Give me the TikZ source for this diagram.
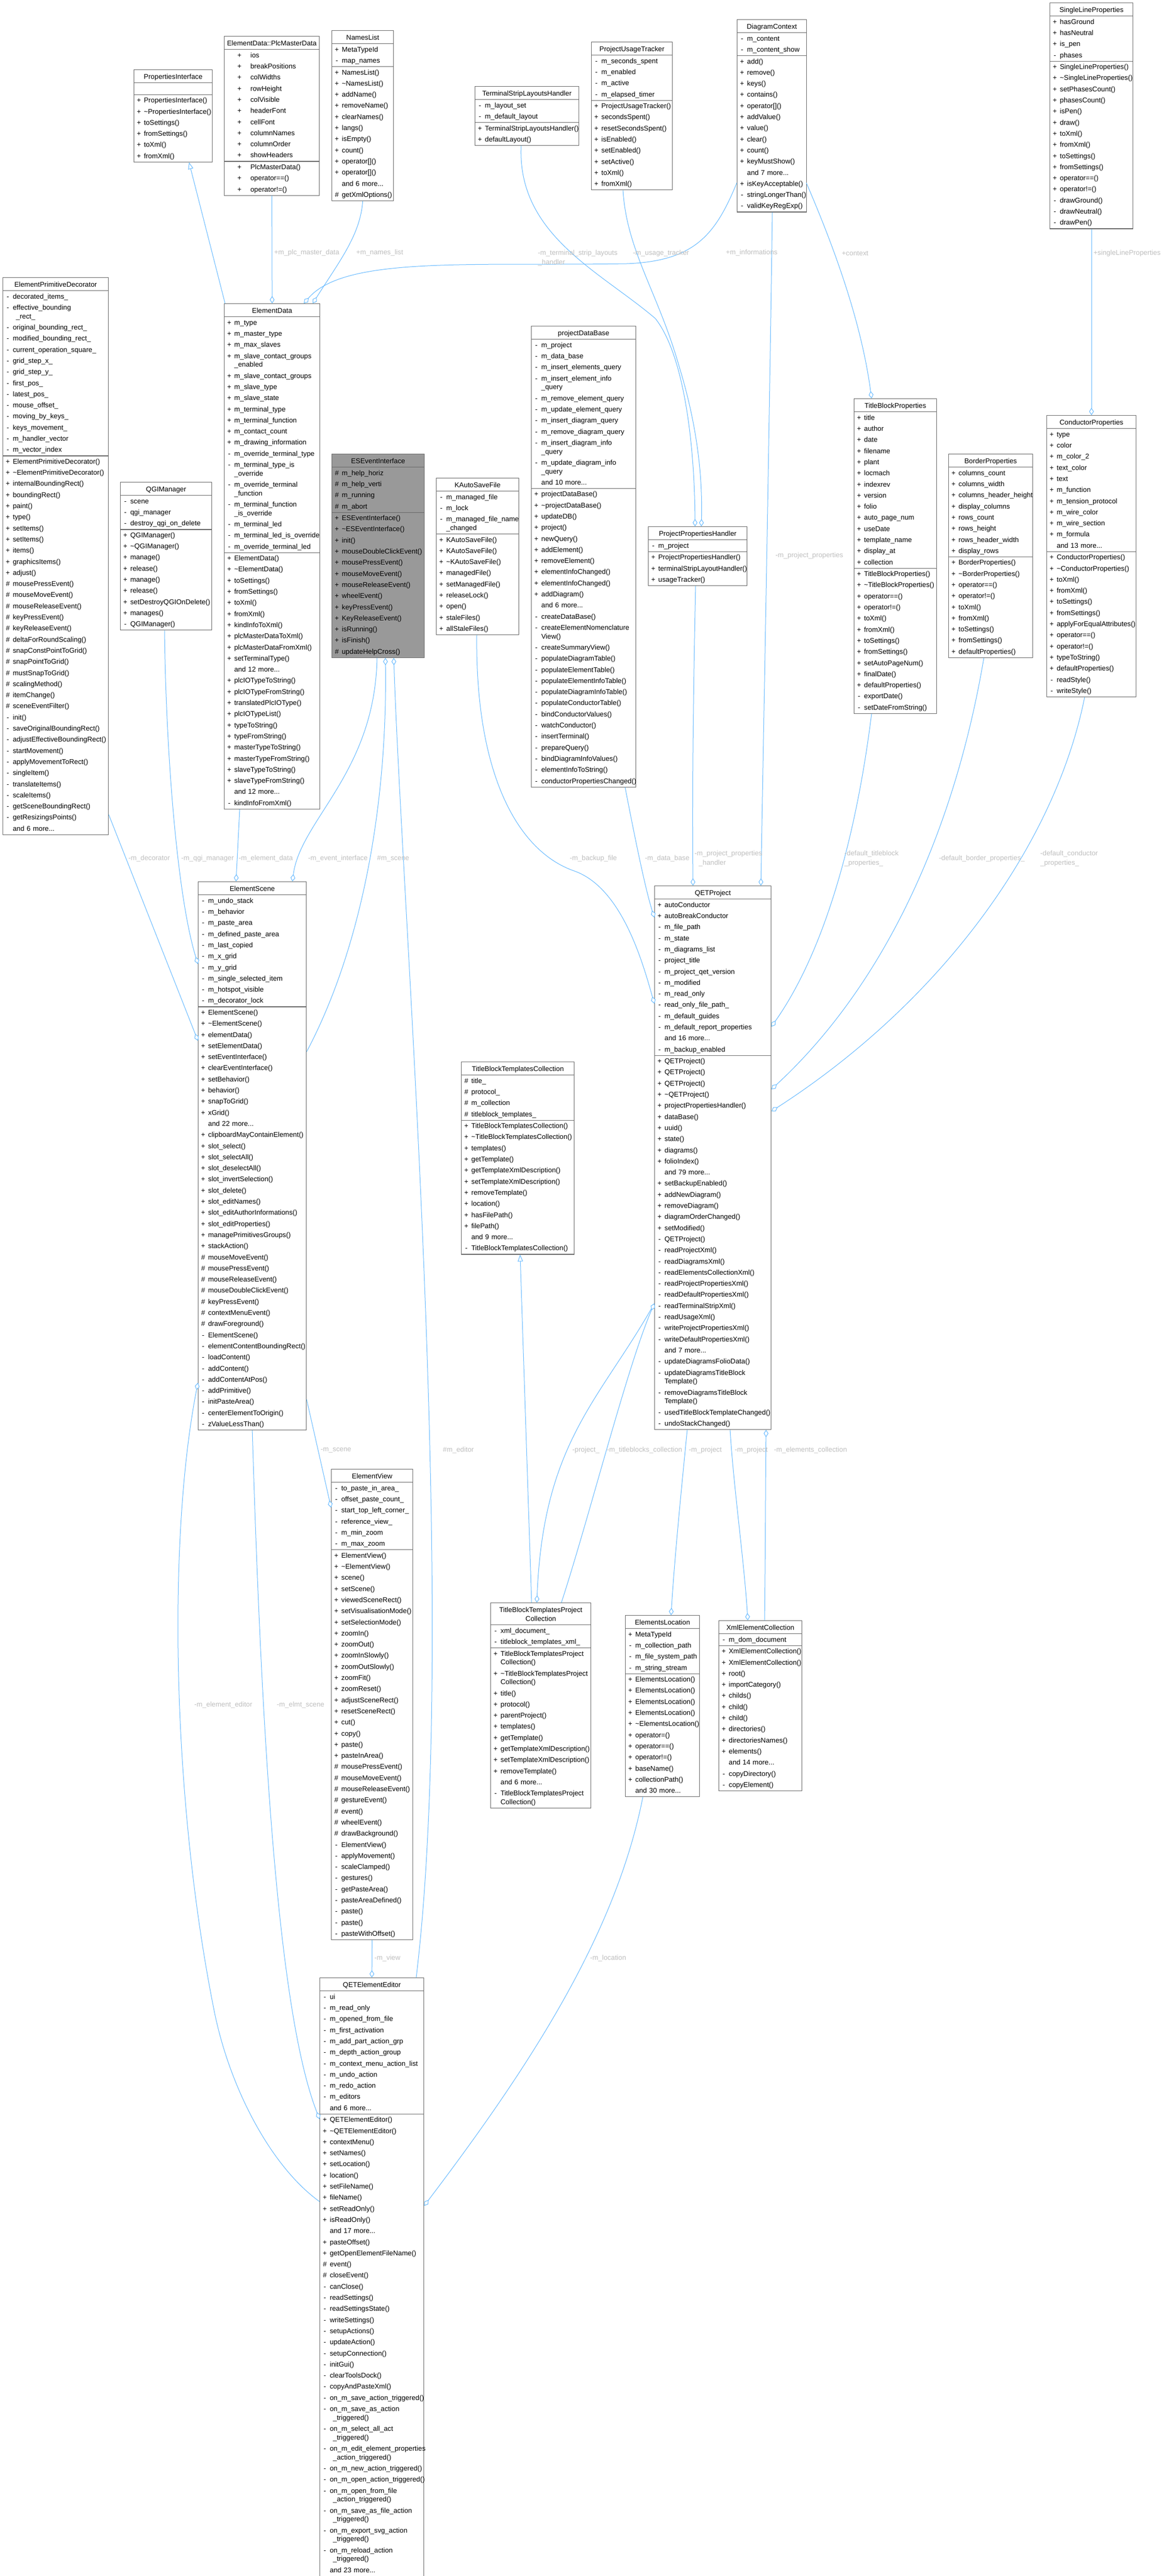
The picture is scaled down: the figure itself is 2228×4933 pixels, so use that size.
\documentclass[tikz,border=0pt]{standalone}
\usepackage{fontspec}
\setmainfont{Liberation Sans}
\usetikzlibrary{calc,shapes.multipart,arrows.meta}

\definecolor{boxgray}{HTML}{666666}
\definecolor{esgray}{HTML}{999999}
\definecolor{edgeblue}{HTML}{63B8FF}
\definecolor{lblgray}{HTML}{BEBEBE}

\newcommand{\clsfont}{\fontsize{13.3pt}{0pt}\selectfont\lineskip=0pt\lineskiplimit=0pt\parskip=0pt\parindent=0pt}
\newcommand{\lblfont}{\fontsize{13.3pt}{18.5pt}\selectfont}
\newcommand{\til}{\textasciitilde}
% class title, one or two lines
\newcommand{\hd}[1]{\par\hbox to\hsize{\hss\rule[-7pt]{0pt}{24pt}#1\hss}}
\newcommand{\hdc}[1]{\par\hbox to\hsize{\hss\rule[-7pt]{0pt}{17pt}#1\hss}}
% member row, continued row, plc row, empty row
\newcommand{\mbr}[2]{\par\hbox to\hsize{\hspace*{3pt}\makebox[13pt][c]{#1}\hspace*{3pt}\rule[-6.5pt]{0pt}{21.3pt}\smash{#2}\hss}}
\newcommand{\mco}[2][0pt]{\par\hbox to\hsize{\hspace*{19pt}\hspace*{#1}\rule[-6.5pt]{0pt}{16.7pt}\smash{#2}\hss}}
\newcommand{\mpl}[2]{\par\hbox to\hsize{\hspace*{25pt}\makebox[25pt][l]{#1}\rule[-6.5pt]{0pt}{21.3pt}\smash{#2}\hss}}
\newcommand{\nil}{\par\hbox to\hsize{\rule[-6.5pt]{0pt}{21.3pt}\hss}}

\begin{document}
\catcode`\_=12
\begin{tikzpicture}[x=1pt,y=-1pt,
  cls/.style={rectangle split,rectangle split parts=3,draw=boxgray,line width=1.2pt,fill=white,inner sep=0pt,anchor=north west,align=left,font=\clsfont},
  rel/.style={draw=edgeblue,line width=1pt},
  memb/.style={rel,-{Diamond[fill=white,length=14pt,width=9pt]}},
  inher/.style={rel,-{Triangle[fill=white,length=13pt,width=10pt]}},
  lbl/.style={text=lblgray,font=\lblfont,inner sep=0pt,anchor=west,align=left}]
\useasboundingbox (0,0) rectangle (2228,4933);

% top row
\node[cls,text width=150pt] (pif) at (256,133) {\hd{PropertiesInterface}
  \nodepart{two}\nil
  \nodepart{three}\mbr{+}{PropertiesInterface()}\mbr{+}{\til PropertiesInterface()}\mbr{+}{toSettings()}\mbr{+}{fromSettings()}\mbr{+}{toXml()}\mbr{+}{fromXml()}};
\node[cls,text width=182pt] (plc) at (429,69) {\hd{ElementData::PlcMasterData}
  \nodepart{two}\mpl{+}{ios}\mpl{+}{breakPositions}\mpl{+}{colWidths}\mpl{+}{rowHeight}\mpl{+}{colVisible}\mpl{+}{headerFont}\mpl{+}{cellFont}\mpl{+}{columnNames}\mpl{+}{columnOrder}\mpl{+}{showHeaders}
  \nodepart{three}\mpl{+}{PlcMasterData()}\mpl{+}{operator==()}\mpl{+}{operator!=()}};
\node[cls,text width=118pt] (names) at (635,58) {\hd{NamesList}
  \nodepart{two}\mbr{+}{MetaTypeId}\mbr{-}{map_names}
  \nodepart{three}\mbr{+}{NamesList()}\mbr{+}{\til NamesList()}\mbr{+}{addName()}\mbr{+}{removeName()}\mbr{+}{clearNames()}\mbr{+}{langs()}\mbr{+}{isEmpty()}\mbr{+}{count()}\mbr{+}{operator[]()}\mbr{+}{operator[]()}\mbr{}{and 6 more...}\mbr{\#}{getXmlOptions()}};
\node[cls,text width=199pt] (tslh) at (909,165) {\hd{TerminalStripLayoutsHandler}
  \nodepart{two}\mbr{-}{m_layout_set}\mbr{-}{m_default_layout}
  \nodepart{three}\mbr{+}{TerminalStripLayoutsHandler()}\mbr{+}{defaultLayout()}};
\node[cls,text width=155pt] (tracker) at (1132,80) {\hd{ProjectUsageTracker}
  \nodepart{two}\mbr{-}{m_seconds_spent}\mbr{-}{m_enabled}\mbr{-}{m_active}\mbr{-}{m_elapsed_timer}
  \nodepart{three}\mbr{+}{ProjectUsageTracker()}\mbr{+}{secondsSpent()}\mbr{+}{resetSecondsSpent()}\mbr{+}{isEnabled()}\mbr{+}{setEnabled()}\mbr{+}{setActive()}\mbr{+}{toXml()}\mbr{+}{fromXml()}};
\node[cls,text width=133pt] (context) at (1411,37) {\hd{DiagramContext}
  \nodepart{two}\mbr{-}{m_content}\mbr{-}{m_content_show}
  \nodepart{three}\mbr{+}{add()}\mbr{+}{remove()}\mbr{+}{keys()}\mbr{+}{contains()}\mbr{+}{operator[]()}\mbr{+}{addValue()}\mbr{+}{value()}\mbr{+}{clear()}\mbr{+}{count()}\mbr{+}{keyMustShow()}\mbr{}{and 7 more...}\mbr{+}{isKeyAcceptable()}\mbr{-}{stringLongerThan()}\mbr{-}{validKeyRegExp()}};
\node[cls,text width=159pt] (slp) at (2010,5) {\hd{SingleLineProperties}
  \nodepart{two}\mbr{+}{hasGround}\mbr{+}{hasNeutral}\mbr{+}{is_pen}\mbr{-}{phases}
  \nodepart{three}\mbr{+}{SingleLineProperties()}\mbr{+}{\til SingleLineProperties()}\mbr{+}{setPhasesCount()}\mbr{+}{phasesCount()}\mbr{+}{isPen()}\mbr{+}{draw()}\mbr{+}{toXml()}\mbr{+}{fromXml()}\mbr{+}{toSettings()}\mbr{+}{fromSettings()}\mbr{+}{operator==()}\mbr{+}{operator!=()}\mbr{-}{drawGround()}\mbr{-}{drawNeutral()}\mbr{-}{drawPen()}};

% second row
\node[cls,text width=202pt] (decor) at (5,531) {\hd{ElementPrimitiveDecorator}
  \nodepart{two}\mbr{-}{decorated_items_}\mbr{-}{effective_bounding}\mco[6pt]{_rect_}\mbr{-}{original_bounding_rect_}\mbr{-}{modified_bounding_rect_}\mbr{-}{current_operation_square_}\mbr{-}{grid_step_x_}\mbr{-}{grid_step_y_}\mbr{-}{first_pos_}\mbr{-}{latest_pos_}\mbr{-}{mouse_offset_}\mbr{-}{moving_by_keys_}\mbr{-}{keys_movement_}\mbr{-}{m_handler_vector}\mbr{-}{m_vector_index}
  \nodepart{three}\mbr{+}{ElementPrimitiveDecorator()}\mbr{+}{\til ElementPrimitiveDecorator()}\mbr{+}{internalBoundingRect()}\mbr{+}{boundingRect()}\mbr{+}{paint()}\mbr{+}{type()}\mbr{+}{setItems()}\mbr{+}{setItems()}\mbr{+}{items()}\mbr{+}{graphicsItems()}\mbr{+}{adjust()}\mbr{\#}{mousePressEvent()}\mbr{\#}{mouseMoveEvent()}\mbr{\#}{mouseReleaseEvent()}\mbr{\#}{keyPressEvent()}\mbr{\#}{keyReleaseEvent()}\mbr{\#}{deltaForRoundScaling()}\mbr{\#}{snapConstPointToGrid()}\mbr{\#}{snapPointToGrid()}\mbr{\#}{mustSnapToGrid()}\mbr{\#}{scalingMethod()}\mbr{\#}{itemChange()}\mbr{\#}{sceneEventFilter()}\mbr{-}{init()}\mbr{-}{saveOriginalBoundingRect()}\mbr{-}{adjustEffectiveBoundingRect()}\mbr{-}{startMovement()}\mbr{-}{applyMovementToRect()}\mbr{-}{singleItem()}\mbr{-}{translateItems()}\mbr{-}{scaleItems()}\mbr{-}{getSceneBoundingRect()}\mbr{-}{getResizingsPoints()}\mbr{}{and 6 more...}};
\node[cls,text width=183pt] (data) at (429,581) {\hd{ElementData}
  \nodepart{two}\mbr{+}{m_type}\mbr{+}{m_master_type}\mbr{+}{m_max_slaves}\mbr{+}{m_slave_contact_groups}\mco{_enabled}\mbr{+}{m_slave_contact_groups}\mbr{+}{m_slave_type}\mbr{+}{m_slave_state}\mbr{+}{m_terminal_type}\mbr{+}{m_terminal_function}\mbr{+}{m_contact_count}\mbr{+}{m_drawing_information}\mbr{-}{m_override_terminal_type}\mbr{-}{m_terminal_type_is}\mco{_override}\mbr{-}{m_override_terminal}\mco{_function}\mbr{-}{m_terminal_function}\mco{_is_override}\mbr{-}{m_terminal_led}\mbr{-}{m_terminal_led_is_override}\mbr{-}{m_override_terminal_led}
  \nodepart{three}\mbr{+}{ElementData()}\mbr{+}{\til ElementData()}\mbr{+}{toSettings()}\mbr{+}{fromSettings()}\mbr{+}{toXml()}\mbr{+}{fromXml()}\mbr{+}{kindInfoToXml()}\mbr{+}{plcMasterDataToXml()}\mbr{+}{plcMasterDataFromXml()}\mbr{+}{setTerminalType()}\mbr{}{and 12 more...}\mbr{+}{plcIOTypeToString()}\mbr{+}{plcIOTypeFromString()}\mbr{+}{translatedPlcIOType()}\mbr{+}{plcIOTypeList()}\mbr{+}{typeToString()}\mbr{+}{typeFromString()}\mbr{+}{masterTypeToString()}\mbr{+}{masterTypeFromString()}\mbr{+}{slaveTypeToString()}\mbr{+}{slaveTypeFromString()}\mbr{}{and 12 more...}\mbr{-}{kindInfoFromXml()}};
\node[cls,text width=175pt] (qgi) at (230,923) {\hd{QGIManager}
  \nodepart{two}\mbr{-}{scene}\mbr{-}{qgi_manager}\mbr{-}{destroy_qgi_on_delete}
  \nodepart{three}\mbr{+}{QGIManager()}\mbr{+}{\til QGIManager()}\mbr{+}{manage()}\mbr{+}{release()}\mbr{+}{manage()}\mbr{+}{release()}\mbr{+}{setDestroyQGIOnDelete()}\mbr{+}{manages()}\mbr{-}{QGIManager()}};
\node[cls,fill=esgray,text width=177pt] (esi) at (635,869) {\hd{ESEventInterface}
  \nodepart{two}\mbr{\#}{m_help_horiz}\mbr{\#}{m_help_verti}\mbr{\#}{m_running}\mbr{\#}{m_abort}
  \nodepart{three}\mbr{+}{ESEventInterface()}\mbr{+}{\til ESEventInterface()}\mbr{+}{init()}\mbr{+}{mouseDoubleClickEvent()}\mbr{+}{mousePressEvent()}\mbr{+}{mouseMoveEvent()}\mbr{+}{mouseReleaseEvent()}\mbr{+}{wheelEvent()}\mbr{+}{keyPressEvent()}\mbr{+}{KeyReleaseEvent()}\mbr{+}{isRunning()}\mbr{+}{isFinish()}\mbr{\#}{updateHelpCross()}};
\node[cls,text width=158pt] (autosave) at (835,915) {\hd{KAutoSaveFile}
  \nodepart{two}\mbr{-}{m_managed_file}\mbr{-}{m_lock}\mbr{-}{m_managed_file_name}\mco{_changed}
  \nodepart{three}\mbr{+}{KAutoSaveFile()}\mbr{+}{KAutoSaveFile()}\mbr{+}{\til KAutoSaveFile()}\mbr{+}{managedFile()}\mbr{+}{setManagedFile()}\mbr{+}{releaseLock()}\mbr{+}{open()}\mbr{+}{staleFiles()}\mbr{+}{allStaleFiles()}};
\node[cls,text width=200pt] (pdb) at (1017,624) {\hd{projectDataBase}
  \nodepart{two}\mbr{-}{m_project}\mbr{-}{m_data_base}\mbr{-}{m_insert_elements_query}\mbr{-}{m_insert_element_info}\mco{_query}\mbr{-}{m_remove_element_query}\mbr{-}{m_update_element_query}\mbr{-}{m_insert_diagram_query}\mbr{-}{m_remove_diagram_query}\mbr{-}{m_insert_diagram_info}\mco{_query}\mbr{-}{m_update_diagram_info}\mco{_query}\mbr{}{and 10 more...}
  \nodepart{three}\mbr{+}{projectDataBase()}\mbr{+}{\til projectDataBase()}\mbr{+}{updateDB()}\mbr{+}{project()}\mbr{+}{newQuery()}\mbr{+}{addElement()}\mbr{+}{removeElement()}\mbr{+}{elementInfoChanged()}\mbr{+}{elementInfoChanged()}\mbr{+}{addDiagram()}\mbr{}{and 6 more...}\mbr{-}{createDataBase()}\mbr{-}{createElementNomenclature}\mco{View()}\mbr{-}{createSummaryView()}\mbr{-}{populateDiagramTable()}\mbr{-}{populateElementTable()}\mbr{-}{populateElementInfoTable()}\mbr{-}{populateDiagramInfoTable()}\mbr{-}{populateConductorTable()}\mbr{-}{bindConductorValues()}\mbr{-}{watchConductor()}\mbr{-}{insertTerminal()}\mbr{-}{prepareQuery()}\mbr{-}{bindDiagramInfoValues()}\mbr{-}{elementInfoToString()}\mbr{-}{conductorPropertiesChanged()}};
\node[cls,text width=189pt] (pph) at (1241,1008) {\hd{ProjectPropertiesHandler}
  \nodepart{two}\mbr{-}{m_project}
  \nodepart{three}\mbr{+}{ProjectPropertiesHandler()}\mbr{+}{terminalStripLayoutHandler()}\mbr{+}{usageTracker()}};
\node[cls,text width=158pt] (tbp) at (1635,763) {\hd{TitleBlockProperties}
  \nodepart{two}\mbr{+}{title}\mbr{+}{author}\mbr{+}{date}\mbr{+}{filename}\mbr{+}{plant}\mbr{+}{locmach}\mbr{+}{indexrev}\mbr{+}{version}\mbr{+}{folio}\mbr{+}{auto_page_num}\mbr{+}{useDate}\mbr{+}{template_name}\mbr{+}{display_at}\mbr{+}{collection}
  \nodepart{three}\mbr{+}{TitleBlockProperties()}\mbr{+}{\til TitleBlockProperties()}\mbr{+}{operator==()}\mbr{+}{operator!=()}\mbr{+}{toXml()}\mbr{+}{fromXml()}\mbr{+}{toSettings()}\mbr{+}{fromSettings()}\mbr{+}{setAutoPageNum()}\mbr{+}{finalDate()}\mbr{+}{defaultProperties()}\mbr{-}{exportDate()}\mbr{-}{setDateFromString()}};
\node[cls,text width=161pt] (border) at (1816,869) {\hd{BorderProperties}
  \nodepart{two}\mbr{+}{columns_count}\mbr{+}{columns_width}\mbr{+}{columns_header_height}\mbr{+}{display_columns}\mbr{+}{rows_count}\mbr{+}{rows_height}\mbr{+}{rows_header_width}\mbr{+}{display_rows}
  \nodepart{three}\mbr{+}{BorderProperties()}\mbr{+}{\til BorderProperties()}\mbr{+}{operator==()}\mbr{+}{operator!=()}\mbr{+}{toXml()}\mbr{+}{fromXml()}\mbr{+}{toSettings()}\mbr{+}{fromSettings()}\mbr{+}{defaultProperties()}};
\node[cls,text width=171pt] (cprop) at (2004,795) {\hd{ConductorProperties}
  \nodepart{two}\mbr{+}{type}\mbr{+}{color}\mbr{+}{m_color_2}\mbr{+}{text_color}\mbr{+}{text}\mbr{+}{m_function}\mbr{+}{m_tension_protocol}\mbr{+}{m_wire_color}\mbr{+}{m_wire_section}\mbr{+}{m_formula}\mbr{}{and 13 more...}
  \nodepart{three}\mbr{+}{ConductorProperties()}\mbr{+}{\til ConductorProperties()}\mbr{+}{toXml()}\mbr{+}{fromXml()}\mbr{+}{toSettings()}\mbr{+}{fromSettings()}\mbr{+}{applyForEqualAttributes()}\mbr{+}{operator==()}\mbr{+}{operator!=()}\mbr{+}{typeToString()}\mbr{+}{defaultProperties()}\mbr{-}{readStyle()}\mbr{-}{writeStyle()}};

% middle
\node[cls,text width=207pt] (scene) at (379,1688) {\hd{ElementScene}
  \nodepart{two}\mbr{-}{m_undo_stack}\mbr{-}{m_behavior}\mbr{-}{m_paste_area}\mbr{-}{m_defined_paste_area}\mbr{-}{m_last_copied}\mbr{-}{m_x_grid}\mbr{-}{m_y_grid}\mbr{-}{m_single_selected_item}\mbr{-}{m_hotspot_visible}\mbr{-}{m_decorator_lock}
  \nodepart{three}\mbr{+}{ElementScene()}\mbr{+}{\til ElementScene()}\mbr{+}{elementData()}\mbr{+}{setElementData()}\mbr{+}{setEventInterface()}\mbr{+}{clearEventInterface()}\mbr{+}{setBehavior()}\mbr{+}{behavior()}\mbr{+}{snapToGrid()}\mbr{+}{xGrid()}\mbr{}{and 22 more...}\mbr{+}{clipboardMayContainElement()}\mbr{+}{slot_select()}\mbr{+}{slot_selectAll()}\mbr{+}{slot_deselectAll()}\mbr{+}{slot_invertSelection()}\mbr{+}{slot_delete()}\mbr{+}{slot_editNames()}\mbr{+}{slot_editAuthorInformations()}\mbr{+}{slot_editProperties()}\mbr{+}{managePrimitivesGroups()}\mbr{+}{stackAction()}\mbr{\#}{mouseMoveEvent()}\mbr{\#}{mousePressEvent()}\mbr{\#}{mouseReleaseEvent()}\mbr{\#}{mouseDoubleClickEvent()}\mbr{\#}{keyPressEvent()}\mbr{\#}{contextMenuEvent()}\mbr{\#}{drawForeground()}\mbr{-}{ElementScene()}\mbr{-}{elementContentBoundingRect()}\mbr{-}{loadContent()}\mbr{-}{addContent()}\mbr{-}{addContentAtPos()}\mbr{-}{addPrimitive()}\mbr{-}{initPasteArea()}\mbr{-}{centerElementToOrigin()}\mbr{-}{zValueLessThan()}};
\node[cls,text width=223pt] (project) at (1253,1696) {\hd{QETProject}
  \nodepart{two}\mbr{+}{autoConductor}\mbr{+}{autoBreakConductor}\mbr{-}{m_file_path}\mbr{-}{m_state}\mbr{-}{m_diagrams_list}\mbr{-}{project_title}\mbr{-}{m_project_qet_version}\mbr{-}{m_modified}\mbr{-}{m_read_only}\mbr{-}{read_only_file_path_}\mbr{-}{m_default_guides}\mbr{-}{m_default_report_properties}\mbr{}{and 16 more...}\mbr{-}{m_backup_enabled}
  \nodepart{three}\mbr{+}{QETProject()}\mbr{+}{QETProject()}\mbr{+}{QETProject()}\mbr{+}{\til QETProject()}\mbr{+}{projectPropertiesHandler()}\mbr{+}{dataBase()}\mbr{+}{uuid()}\mbr{+}{state()}\mbr{+}{diagrams()}\mbr{+}{folioIndex()}\mbr{}{and 79 more...}\mbr{+}{setBackupEnabled()}\mbr{+}{addNewDiagram()}\mbr{+}{removeDiagram()}\mbr{+}{diagramOrderChanged()}\mbr{+}{setModified()}\mbr{-}{QETProject()}\mbr{-}{readProjectXml()}\mbr{-}{readDiagramsXml()}\mbr{-}{readElementsCollectionXml()}\mbr{-}{readProjectPropertiesXml()}\mbr{-}{readDefaultPropertiesXml()}\mbr{-}{readTerminalStripXml()}\mbr{-}{readUsageXml()}\mbr{-}{writeProjectPropertiesXml()}\mbr{-}{writeDefaultPropertiesXml()}\mbr{}{and 7 more...}\mbr{-}{updateDiagramsFolioData()}\mbr{-}{updateDiagramsTitleBlock}\mco{Template()}\mbr{-}{removeDiagramsTitleBlock}\mco{Template()}\mbr{-}{usedTitleBlockTemplateChanged()}\mbr{-}{undoStackChanged()}};
\node[cls,text width=216pt] (tbtc) at (883,2033) {\hd{TitleBlockTemplatesCollection}
  \nodepart{two}\mbr{\#}{title_}\mbr{\#}{protocol_}\mbr{\#}{m_collection}\mbr{\#}{titleblock_templates_}
  \nodepart{three}\mbr{+}{TitleBlockTemplatesCollection()}\mbr{+}{\til TitleBlockTemplatesCollection()}\mbr{+}{templates()}\mbr{+}{getTemplate()}\mbr{+}{getTemplateXmlDescription()}\mbr{+}{setTemplateXmlDescription()}\mbr{+}{removeTemplate()}\mbr{+}{location()}\mbr{+}{hasFilePath()}\mbr{+}{filePath()}\mbr{}{and 9 more...}\mbr{-}{TitleBlockTemplatesCollection()}};

% lower part
\node[cls,text width=156pt] (view) at (634,2813) {\hd{ElementView}
  \nodepart{two}\mbr{-}{to_paste_in_area_}\mbr{-}{offset_paste_count_}\mbr{-}{start_top_left_corner_}\mbr{-}{reference_view_}\mbr{-}{m_min_zoom}\mbr{-}{m_max_zoom}
  \nodepart{three}\mbr{+}{ElementView()}\mbr{+}{\til ElementView()}\mbr{+}{scene()}\mbr{+}{setScene()}\mbr{+}{viewedSceneRect()}\mbr{+}{setVisualisationMode()}\mbr{+}{setSelectionMode()}\mbr{+}{zoomIn()}\mbr{+}{zoomOut()}\mbr{+}{zoomInSlowly()}\mbr{+}{zoomOutSlowly()}\mbr{+}{zoomFit()}\mbr{+}{zoomReset()}\mbr{+}{adjustSceneRect()}\mbr{+}{resetSceneRect()}\mbr{+}{cut()}\mbr{+}{copy()}\mbr{+}{paste()}\mbr{+}{pasteInArea()}\mbr{\#}{mousePressEvent()}\mbr{\#}{mouseMoveEvent()}\mbr{\#}{mouseReleaseEvent()}\mbr{\#}{gestureEvent()}\mbr{\#}{event()}\mbr{\#}{wheelEvent()}\mbr{\#}{drawBackground()}\mbr{-}{ElementView()}\mbr{-}{applyMovement()}\mbr{-}{scaleClamped()}\mbr{-}{gestures()}\mbr{-}{getPasteArea()}\mbr{-}{pasteAreaDefined()}\mbr{-}{paste()}\mbr{-}{paste()}\mbr{-}{pasteWithOffset()}};
\node[cls,text width=199pt] (editor) at (612,3787) {\hd{QETElementEditor}
  \nodepart{two}\mbr{-}{ui}\mbr{-}{m_read_only}\mbr{-}{m_opened_from_file}\mbr{-}{m_first_activation}\mbr{-}{m_add_part_action_grp}\mbr{-}{m_depth_action_group}\mbr{-}{m_context_menu_action_list}\mbr{-}{m_undo_action}\mbr{-}{m_redo_action}\mbr{-}{m_editors}\mbr{}{and 6 more...}
  \nodepart{three}\mbr{+}{QETElementEditor()}\mbr{+}{\til QETElementEditor()}\mbr{+}{contextMenu()}\mbr{+}{setNames()}\mbr{+}{setLocation()}\mbr{+}{location()}\mbr{+}{setFileName()}\mbr{+}{fileName()}\mbr{+}{setReadOnly()}\mbr{+}{isReadOnly()}\mbr{}{and 17 more...}\mbr{+}{pasteOffset()}\mbr{+}{getOpenElementFileName()}\mbr{\#}{event()}\mbr{\#}{closeEvent()}\mbr{-}{canClose()}\mbr{-}{readSettings()}\mbr{-}{readSettingsState()}\mbr{-}{writeSettings()}\mbr{-}{setupActions()}\mbr{-}{updateAction()}\mbr{-}{setupConnection()}\mbr{-}{initGui()}\mbr{-}{clearToolsDock()}\mbr{-}{copyAndPasteXml()}\mbr{-}{on_m_save_action_triggered()}\mbr{-}{on_m_save_as_action}\mco[6pt]{_triggered()}\mbr{-}{on_m_select_all_act}\mco[6pt]{_triggered()}\mbr{-}{on_m_edit_element_properties}\mco[6pt]{_action_triggered()}\mbr{-}{on_m_new_action_triggered()}\mbr{-}{on_m_open_action_triggered()}\mbr{-}{on_m_open_from_file}\mco[6pt]{_action_triggered()}\mbr{-}{on_m_save_as_file_action}\mco[6pt]{_triggered()}\mbr{-}{on_m_export_svg_action}\mco[6pt]{_triggered()}\mbr{-}{on_m_reload_action}\mco[6pt]{_triggered()}\mbr{}{and 23 more...}};
\node[cls,text width=192pt] (tbtpc) at (939,3069) {\hd{TitleBlockTemplatesProject}\hdc{Collection}
  \nodepart{two}\mbr{-}{xml_document_}\mbr{-}{titleblock_templates_xml_}
  \nodepart{three}\mbr{+}{TitleBlockTemplatesProject}\mco{Collection()}\mbr{+}{\til TitleBlockTemplatesProject}\mco{Collection()}\mbr{+}{title()}\mbr{+}{protocol()}\mbr{+}{parentProject()}\mbr{+}{templates()}\mbr{+}{getTemplate()}\mbr{+}{getTemplateXmlDescription()}\mbr{+}{setTemplateXmlDescription()}\mbr{+}{removeTemplate()}\mbr{}{and 6 more...}\mbr{-}{TitleBlockTemplatesProject}\mco{Collection()}};
\node[cls,text width=142pt] (eloc) at (1197,3093) {\hd{ElementsLocation}
  \nodepart{two}\mbr{+}{MetaTypeId}\mbr{-}{m_collection_path}\mbr{-}{m_file_system_path}\mbr{-}{m_string_stream}
  \nodepart{three}\mbr{+}{ElementsLocation()}\mbr{+}{ElementsLocation()}\mbr{+}{ElementsLocation()}\mbr{+}{ElementsLocation()}\mbr{+}{\til ElementsLocation()}\mbr{+}{operator=()}\mbr{+}{operator==()}\mbr{+}{operator!=()}\mbr{+}{baseName()}\mbr{+}{collectionPath()}\mbr{}{and 30 more...}};
\node[cls,text width=159pt] (xec) at (1376,3103) {\hd{XmlElementCollection}
  \nodepart{two}\mbr{-}{m_dom_document}
  \nodepart{three}\mbr{+}{XmlElementCollection()}\mbr{+}{XmlElementCollection()}\mbr{+}{root()}\mbr{+}{importCategory()}\mbr{+}{childs()}\mbr{+}{child()}\mbr{+}{child()}\mbr{+}{directories()}\mbr{+}{directoriesNames()}\mbr{+}{elements()}\mbr{}{and 14 more...}\mbr{-}{copyDirectory()}\mbr{-}{copyElement()}};

% connectors
\draw[inher] ($(data.north west)+(2,0)$) -- ($(pif.south west)+(106,0)$);
\draw[memb] (plc.south) -- (data.north);
\draw[memb] (names.south) .. controls (690,450) and (650,500) .. ($(data.north west)+(170,0)$);
\draw[memb] ($(context.north west)+(0,313)$) .. controls (1370,450) and (1330,500) .. (1200,505) .. controls (900,510) and (660,490) .. ($(data.north west)+(153,0)$);
\draw[memb] ($(tslh.south west)+(89,0)$) .. controls (990,450) and (1150,520) .. (1255,610) .. controls (1310,680) and (1330,850) .. ($(pph.north west)+(90,0)$);
\draw[memb] ($(tracker.south west)+(61,0)$) .. controls (1200,480) and (1260,560) .. (1300,700) .. controls (1340,830) and (1345,930) .. ($(pph.north west)+(102,0)$);
\draw[memb] ($(context.south west)+(68,0)$) .. controls (1472,900) and (1462,1400) .. ($(project.north west)+(204,0)$);
\draw[memb] ($(context.north west)+(133,313)$) .. controls (1600,480) and (1650,620) .. ($(tbp.north west)+(34,0)$);
\draw[memb] (slp.south) -- (cprop.north);
\draw[memb] ($(pph.south west)+(91,0)$) .. controls (1326,1400) and (1326,1550) .. ($(project.north west)+(74,0)$);
\draw[memb] ($(pdb.south west)+(180,0)$) .. controls (1215,1600) and (1235,1700) .. ($(project.north west)+(0,61)$);
\draw[memb] ($(autosave.south west)+(78,0)$) .. controls (910,1480) and (990,1630) .. (1100,1668) .. controls (1190,1700) and (1230,1840) .. ($(project.north west)+(0,226)$);
\draw[memb] ($(tbp.south west)+(34,0)$) .. controls (1640,1600) and (1580,1820) .. ($(project.north east)+(0,270)$);
\draw[memb] ($(border.south west)+(68,0)$) .. controls (1830,1580) and (1700,1880) .. ($(project.north east)+(0,390)$);
\draw[memb] ($(cprop.south west)+(73,0)$) .. controls (2020,1620) and (1800,1920) .. ($(project.north east)+(0,432)$);
\draw[memb] ($(data.south west)+(30,0)$) -- ($(scene.north west)+(73,0)$);
\draw[memb] ($(decor.north east)+(0,1029)$) -- ($(scene.north west)+(0,305)$);
\draw[memb] ($(qgi.south west)+(85,0)$) .. controls (318,1450) and (340,1720) .. ($(scene.north west)+(0,158)$);
\draw[memb] ($(esi.south west)+(87,0)$) .. controls (718,1480) and (575,1570) .. ($(scene.north west)+(181,0)$);
\draw[memb] ($(scene.north east)+(0,326)$) .. controls (690,1820) and (742,1550) .. ($(esi.south west)+(103,0)$);
\draw[memb] ($(editor.north west)+(185,0)$) .. controls (880,3100) and (770,1750) .. ($(esi.south west)+(119,0)$);
\draw[memb] ($(scene.north east)+(0,992)$) -- ($(view.north west)+(0,74)$);
\draw[memb] (view.south) -- (editor.north);
\draw[memb] (scene.south) .. controls (500,3300) and (530,3850) .. ($(editor.north west)+(0,271)$);
\draw[memb] ($(editor.north west)+(0,429)$) .. controls (520,4150) and (440,4000) .. (410,3850) .. controls (330,3450) and (320,2950) .. ($(scene.north west)+(0,960)$);
\draw[memb] ($(eloc.south west)+(34,0)$) .. controls (1180,3700) and (1020,3950) .. ($(editor.north east)+(0,437)$);
\draw[inher] ($(tbtpc.north west)+(79,0)$) -- ($(tbtc.south west)+(113,0)$);
\draw[memb] ($(project.north west)+(0,800)$) .. controls (1150,2680) and (1040,2760) .. ($(tbtpc.north west)+(89,0)$);
\draw[memb] ($(tbtpc.north west)+(136,0)$) .. controls (1130,2900) and (1200,2620) .. ($(project.north west)+(0,800)$);
\draw[memb] ($(project.south west)+(63,0)$) .. controls (1305,2850) and (1292,2980) .. ($(eloc.north west)+(88,0)$);
\draw[memb] ($(project.south west)+(145,0)$) .. controls (1405,2850) and (1425,2990) .. ($(xec.north west)+(56,0)$);
\draw[memb] ($(xec.north west)+(88,0)$) .. controls (1466,2950) and (1466,2820) .. ($(project.south west)+(214,0)$);

% connector labels
\node[lbl] (l1) at (525,484) {+m_plc_master_data};
\node[lbl] (l2) at (682,484) {+m_names_list};
\node[lbl] (l3) at (1030,494) {-m_terminal_strip_layouts\\_handler};
\node[lbl] (l4) at (1212,485) {-m_usage_tracker};
\node[lbl] (l5) at (1390,484) {+m_informations};
\node[lbl] (l6) at (1612,485) {+context};
\node[lbl] (l7) at (2094,485) {+singleLineProperties};
\node[lbl] (l8) at (1485,1064) {-m_project_properties};
\node[lbl] (l9) at (246,1644) {-m_decorator};
\node[lbl] (l10) at (347,1644) {-m_qgi_manager};
\node[lbl] (l11) at (457,1644) {-m_element_data};
\node[lbl] (l12) at (590,1644) {-m_event_interface};
\node[lbl] (l13) at (722,1644) {\#m_scene};
\node[lbl] (l14) at (1091,1644) {-m_backup_file};
\node[lbl] (l15) at (1235,1644) {-m_data_base};
\node[lbl] (l16) at (1330,1644) {-m_project_properties\\\hspace*{8pt}_handler};
\node[lbl] (l17) at (1617,1644) {-default_titleblock\\_properties_};
\node[lbl] (l18) at (1798,1644) {-default_border_properties_};
\node[lbl] (l19) at (1992,1644) {-default_conductor\\_properties_};
\node[lbl] (l20) at (614,2777) {-m_scene};
\node[lbl] (l21) at (848,2777) {\#m_editor};
\node[lbl] (l22) at (1096,2777) {-project_};
\node[lbl] (l23) at (1162,2777) {-m_titleblocks_collection};
\node[lbl] (l24) at (1319,2777) {-m_project};
\node[lbl] (l25) at (1407,2777) {-m_project};
\node[lbl] (l26) at (1482,2777) {-m_elements_collection};
\node[lbl] (l27) at (372,3265) {-m_element_editor};
\node[lbl] (l28) at (530,3265) {-m_elmt_scene};
\node[lbl] (l29) at (717,3750) {-m_view};
\node[lbl] (l30) at (1130,3750) {-m_location};
\end{tikzpicture}
\end{document}
